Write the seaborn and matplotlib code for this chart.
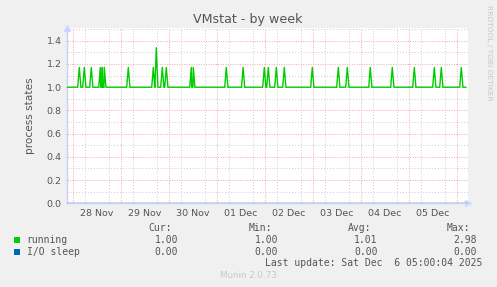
import numpy as np
import pandas as pd
import matplotlib
matplotlib.use("Agg")
import matplotlib.pyplot as plt
import seaborn as sns
from matplotlib.patches import Rectangle

# ---------------- data ----------------
# hours since 2025-11-28 00:00
spike_hours = [3.3, 5.8, 9.3, 13.8, 14.8, 15.8, 27.8, 40.3, 41.8, 44.8, 46.8,
               59.3, 60.3, 76.8, 85.2, 95.8, 97.8, 101.8, 105.8, 119.8, 132.8,
               137.3, 148.8, 159.8, 170.8, 180.8, 184.3, 194.3]
spike_values = [1.17, 1.17, 1.17, 1.17, 1.17, 1.17, 1.17, 1.17, 1.34, 1.17, 1.17,
                1.17, 1.17, 1.17, 1.17, 1.17, 1.17, 1.17, 1.17, 1.17, 1.17,
                1.17, 1.17, 1.17, 1.17, 1.17, 1.17, 1.17]
running_base = 1.0
io_sleep_value = 0.0
series_start, series_end = -2.85, 196.4

day_labels = ["28 Nov", "29 Nov", "30 Nov", "01 Dec", "02 Dec", "03 Dec", "04 Dec", "05 Dec"]
series_names = ["running", "I/O sleep"]
series_colors = ["#00cc00", "#0066b3"]
stat_headers = ["Cur:", "Min:", "Avg:", "Max:"]
running_stats = ["1.00", "1.00", "1.01", "2.98"]
io_stats = ["0.00", "0.00", "0.00", "0.00"]
last_update = "Last update: Sat Dec  6 05:00:04 2025"

# build running series (baseline with spikes)
xs = [series_start]
ys = [running_base]
for h, v in zip(spike_hours, spike_values):
    xs += [h - 0.8, h, h + 0.8]
    ys += [running_base, v, running_base]
xs.append(series_end)
ys.append(running_base)
df_run = pd.DataFrame({"hour": xs, "value": ys})
df_io = pd.DataFrame({"hour": [series_start, series_end], "value": [io_sleep_value, io_sleep_value]})

# ---------------- figure ----------------
W, H = 497, 287
fig = plt.figure(figsize=(W / 100, H / 100), dpi=100, facecolor="#f0f0f0")
L, R, T, B = 67, 467.5, 28, 203.3
ax = fig.add_axes([L / W, 1 - B / H, (R - L) / W, (B - T) / H])
ax.set_facecolor("white")

xmin, xmax = -2.85, 197.4
ax.set_xlim(xmin, xmax)
ax.set_ylim(0, 1.51)

red = "#f2a8a8"
gray = "#cccccc"
dot_gray = (0, (1, 2))
dot_red = (0, (1, 1.5))

# grids
ax.set_yticks(np.arange(0, 1.41, 0.2))
ax.set_yticks([0.1, 0.3, 0.5, 0.7, 0.9, 1.1, 1.3, 1.5], minor=True)
ax.yaxis.grid(True, which="minor", color=gray, linestyle=dot_gray, linewidth=0.7)
ax.yaxis.grid(True, which="major", color=red, linestyle=dot_red, linewidth=0.7)

ax.set_xticks([12 + 24 * i for i in range(len(day_labels))])
ax.set_xticklabels(day_labels)
ax.set_xticks([h for h in np.arange(0, xmax, 6) if h % 24 != 0], minor=True)
ax.xaxis.grid(True, which="minor", color=gray, linestyle=dot_gray, linewidth=0.7)
ax.xaxis.grid(False, which="major")
for d in range(0, int(xmax) + 1, 24):
    ax.axvline(d, color=red, linestyle=dot_red, linewidth=0.7, zorder=0.6)
ax.set_axisbelow(True)

ax.tick_params(axis="x", which="major", length=0, labelsize=6.8, labelcolor="#555555", pad=4)
ax.tick_params(axis="x", which="minor", length=0)
ax.tick_params(axis="y", which="major", length=2, color=red, direction="inout",
               labelsize=6.8, labelcolor="#555555", pad=3)
ax.tick_params(axis="y", which="minor", length=0)
ax.yaxis.set_major_formatter(matplotlib.ticker.FormatStrFormatter("%.1f"))

for s in ["top", "right"]:
    ax.spines[s].set_visible(False)
for s in ["left", "bottom"]:
    ax.spines[s].set_color("#c8d0f8")
    ax.spines[s].set_linewidth(1.0)

# series
sns.lineplot(data=df_io, x="hour", y="value", ax=ax, color=series_colors[1], linewidth=1.0, zorder=3)
sns.lineplot(data=df_run, x="hour", y="value", ax=ax, color=series_colors[0], linewidth=1.0, zorder=4)
ax.set_xlabel("")
ax.set_ylabel("process states", fontsize=7.6, color="#555555", labelpad=8)

# axis arrows
ax.plot([1.0], [0], marker=">", markersize=5, color="#d0d8ff", transform=ax.transAxes, clip_on=False)
ax.plot([0], [1.0], marker="^", markersize=5, color="#d0d8ff", transform=ax.transAxes, clip_on=False)

# title and texts
def fx(px):
    return px / W

def fy(py):
    return 1 - py / H

fig.text(fx(248), fy(19.3), "VMstat - by week", ha="center", va="center", fontsize=9.1, color="#555555")
fig.text(fx(488.5), fy(53), "RRDTOOL / TOBI OETIKER", ha="center", va="center", rotation=270,
         fontsize=5.4, color="#c8c8c8")

mono = dict(family="DejaVu Sans Mono", fontsize=7, color="#555555", va="center")
hdr_x = [172, 272, 371, 470]
val_x = [178.3, 278.3, 377.7, 476.7]
for x, h in zip(hdr_x, stat_headers):
    fig.text(fx(x), fy(227.7), h, ha="right", **mono)
rows_y = [240, 251.7]
for name, color, stats, y in zip(series_names, series_colors, [running_stats, io_stats], rows_y):
    fig.patches.append(Rectangle((fx(14), fy(y + 2.8)), 5.5 / W, 5.5 / H, transform=fig.transFigure,
                                 facecolor=color, edgecolor="none"))
    fig.text(fx(26.7), fy(y), name, ha="left", **mono)
    for x, v in zip(val_x, stats):
        fig.text(fx(x), fy(y), v, ha="right", **mono)
fig.text(fx(482.3), fy(263.3), last_update, ha="right", **mono)
fig.text(fx(248), fy(276), "Munin 2.0.73", ha="center", va="center", fontsize=6.3, color="#c8c8c8")

fig.savefig("out.png", dpi=100, facecolor=fig.get_facecolor())
